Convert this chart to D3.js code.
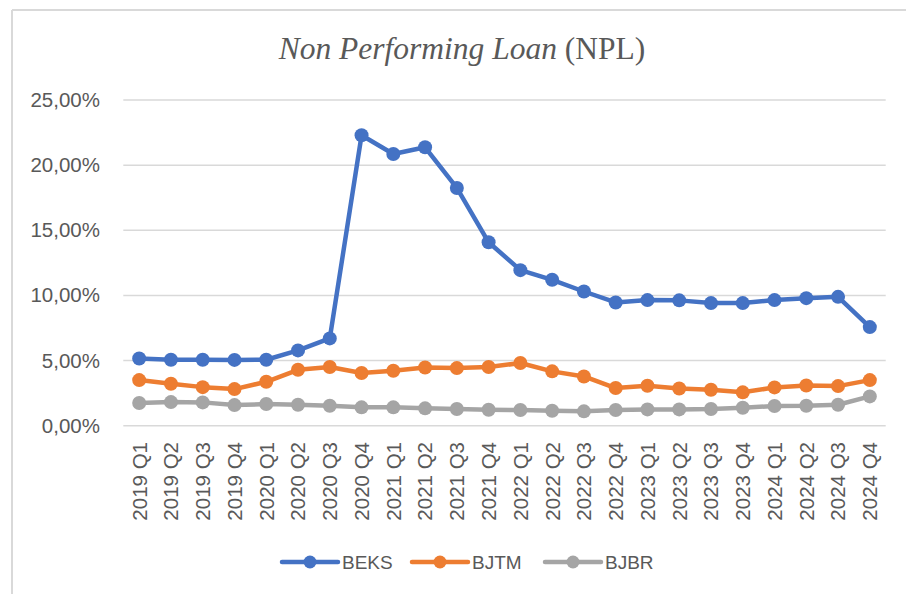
<!DOCTYPE html>
<html>
<head>
<meta charset="utf-8">
<script src="https://cdn.jsdelivr.net/npm/d3@7"></script>
<style>
  body { margin: 0; background: #fff; }
  svg { display: block; }
</style>
</head>
<body>
<svg width="906" height="594"></svg>
<script>
var quarters = ["2019 Q1", "2019 Q2", "2019 Q3", "2019 Q4", "2020 Q1", "2020 Q2", "2020 Q3", "2020 Q4",
  "2021 Q1", "2021 Q2", "2021 Q3", "2021 Q4", "2022 Q1", "2022 Q2", "2022 Q3", "2022 Q4",
  "2023 Q1", "2023 Q2", "2023 Q3", "2023 Q4", "2024 Q1", "2024 Q2", "2024 Q3", "2024 Q4"];

var beks = [5.16, 5.06, 5.06, 5.05, 5.06, 5.78, 6.70, 22.29, 20.86, 21.37, 18.25, 14.08,
  11.94, 11.20, 10.30, 9.46, 9.64, 9.62, 9.41, 9.41, 9.64, 9.79, 9.89, 7.57];
var bjtm = [3.50, 3.22, 2.96, 2.81, 3.37, 4.29, 4.50, 4.04, 4.22, 4.47, 4.42, 4.50,
  4.81, 4.17, 3.78, 2.89, 3.07, 2.86, 2.76, 2.56, 2.94, 3.09, 3.04, 3.50];
var bjbr = [1.74, 1.81, 1.79, 1.58, 1.66, 1.61, 1.53, 1.41, 1.41, 1.33, 1.28, 1.23,
  1.20, 1.15, 1.10, 1.20, 1.25, 1.25, 1.28, 1.38, 1.51, 1.53, 1.61, 2.25];

var seriesNames = ["BEKS", "BJTM", "BJBR"];
var seriesColors = ["#4472C4", "#ED7D31", "#A5A5A5"];
var yTicks = [0, 5, 10, 15, 20, 25];

var series = [beks, bjtm, bjbr].map(function (vals, i) {
  return { name: seriesNames[i], color: seriesColors[i], values: vals };
});

var svg = d3.select("svg");
var textColor = "#595959";

// chart frame (only top and left edges are visible in the picture)
svg.append("line").attr("x1", 12).attr("y1", 10).attr("x2", 906).attr("y2", 10)
  .attr("stroke", "#d9d9d9").attr("stroke-width", 2);
svg.append("line").attr("x1", 12).attr("y1", 10).attr("x2", 12).attr("y2", 594)
  .attr("stroke", "#d9d9d9").attr("stroke-width", 2);

// title
var title = svg.append("text")
  .attr("x", 462).attr("y", 59)
  .attr("text-anchor", "middle")
  .attr("font-family", "'Liberation Serif', 'Times New Roman', serif")
  .attr("font-size", 31.5)
  .attr("fill", textColor);
title.append("tspan").attr("font-style", "italic").text("Non Performing Loan");
title.append("tspan").text(" (NPL)");

var x = d3.scaleBand().domain(quarters).range([123.3, 885.7]);
var y = d3.scaleLinear().domain([0, 25]).range([425.7, 100]);

// gridlines
svg.append("g").selectAll("line").data(yTicks).join("line")
  .attr("x1", x.range()[0]).attr("x2", x.range()[1])
  .attr("y1", function (d) { return y(d); }).attr("y2", function (d) { return y(d); })
  .attr("stroke", "#d9d9d9").attr("stroke-width", 1.5);

// y axis labels
var yAxis = d3.axisLeft(y).tickValues(yTicks).tickSize(0).tickPadding(0)
  .tickFormat(function (d) { return d3.format(".2f")(d).replace(".", ",") + "%"; });
var gy = svg.append("g").attr("transform", "translate(100,0)").call(yAxis);
gy.select(".domain").remove();
gy.selectAll("text")
  .attr("font-family", "'Liberation Sans', Arial, sans-serif")
  .attr("font-size", 20.5)
  .attr("fill", textColor);

// x axis labels (rotated)
var xAxis = d3.axisBottom(x).tickSize(0).tickPadding(0);
var gx = svg.append("g").attr("transform", "translate(0,436)").call(xAxis);
gx.select(".domain").remove();
gx.selectAll("text")
  .attr("font-family", "'Liberation Sans', Arial, sans-serif")
  .attr("font-size", 20.5)
  .attr("fill", textColor)
  .attr("text-anchor", "end")
  .attr("transform", "rotate(-90)")
  .attr("x", -6)
  .attr("y", 0)
  .attr("dy", "0.36em");

var line = d3.line()
  .x(function (d, i) { return x(quarters[i]) + x.bandwidth() / 2; })
  .y(function (d) { return y(d); });

series.forEach(function (s) {
  var g = svg.append("g");
  g.append("path")
    .attr("d", line(s.values))
    .attr("fill", "none")
    .attr("stroke", s.color)
    .attr("stroke-width", 4.5)
    .attr("stroke-linejoin", "round");
  g.selectAll("circle").data(s.values).join("circle")
    .attr("cx", function (d, i) { return x(quarters[i]) + x.bandwidth() / 2; })
    .attr("cy", function (d) { return y(d); })
    .attr("r", 7)
    .attr("fill", s.color);
});

// legend
var legendX = [282, 412, 545];
var legend = svg.append("g").selectAll("g").data(series).join("g")
  .attr("transform", function (d, i) { return "translate(" + legendX[i] + ",562)"; });
legend.append("line")
  .attr("x1", 0).attr("x2", 56).attr("y1", 0).attr("y2", 0)
  .attr("stroke", function (d) { return d.color; })
  .attr("stroke-width", 4.5)
  .attr("stroke-linecap", "round");
legend.append("circle")
  .attr("cx", 28).attr("cy", 0).attr("r", 6.5)
  .attr("fill", function (d) { return d.color; });
legend.append("text")
  .attr("x", 60).attr("y", 0).attr("dy", "0.35em")
  .attr("font-family", "'Liberation Sans', Arial, sans-serif")
  .attr("font-size", 19)
  .attr("fill", textColor)
  .text(function (d) { return d.name; });
</script>
</body>
</html>
